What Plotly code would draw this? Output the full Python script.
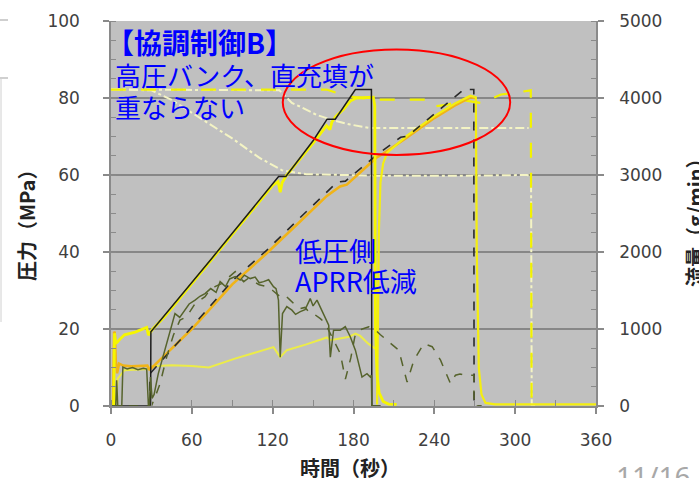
import plotly.graph_objects as go

# ---------------- data ----------------
# Fill 1: dispenser pressure (black solid), MPa
p1_disp_t = [0, 29.4, 29.6, 74.9, 124.4, 129.8, 150.4, 160.4, 166.5, 181.4, 193.3, 193.6, 200]
p1_disp_v = [0, 0, 19.3, 38.4, 59.6, 59.6, 69.1, 74.5, 74.5, 82.2, 82.2, 0, 0]

# Fill 1: vehicle pressure (thick yellow), MPa
p1_veh_t = [2.0, 2.6, 3.5, 4.5, 7, 10, 18, 26.5, 27.8, 29.5, 31, 40, 60, 80, 100, 120, 124, 125.6, 127,
            130, 150, 160, 162.5, 164, 167, 172.5, 177.6, 182, 194.7, 195.8, 196.3, 197.5, 199, 202, 206, 212]
p1_veh_v = [0, 18.9, 16.3, 16.5, 17.5, 18.5, 19.2, 20.4, 18.4, 19.2, 20.0, 23.3, 31.8, 40.2, 48.7, 57.3, 58.3, 55.5, 58.0,
            59.8, 68.3, 72.8, 71.8, 73.8, 75.3, 77.0, 79.2, 80.0, 80.2, 78.0, 20, 8, 3.5, 1.2, 0.5, 0.4]

# Fill 2: dispenser pressure (black dashed), MPa
p2_disp_t = [0, 28.7, 28.9, 60, 90, 115.7, 140, 159, 168, 174, 197.2, 215, 218.5, 222.3, 240, 261.9, 269.3, 269.5, 275]
p2_disp_v = [0, 0, 8.4, 20.5, 32.5, 40.5, 48.8, 55.3, 58.2, 58.4, 65.2, 69.8, 70.0, 70.7, 75.8, 82.2, 82.2, 0, 0]

# Fill 2: vehicle pressure (orange), MPa
p2_veh_t = [1.5, 2.3, 2.8, 3.5, 4.5, 6, 9, 15, 27, 28.5, 30, 40, 60, 90, 115, 140, 160, 170, 175, 197, 202.4,
            220, 240, 255, 266.8, 270.2]
p2_veh_v = [0, 19.3, 19.0, 12.0, 8.5, 11.0, 10.5, 10.3, 10.5, 9.5, 9.8, 13.2, 20.0, 31.6, 39.5, 47.8, 54.5, 57.0, 57.5, 64.5, 65.6,
            69.8, 74.8, 78.0, 80.2, 80.0]

# Fill 2: second vehicle pressure signal (yellow), MPa
p2_veh2_t = [197.5, 198, 198.8, 200, 202, 205, 220, 240, 255, 266.8, 270.8, 271.5, 273, 275, 278, 285, 360]
p2_veh2_v = [0.4, 20, 45, 58, 63, 65.8, 70.3, 75.3, 78.5, 80.6, 80.2, 40, 10, 3, 0.8, 0.4, 0.4]

# Low yellow line (thin), MPa
low_t = [3, 5, 10, 28, 30, 45, 60, 72.6, 92, 105, 120.6, 125.6, 130.5, 145, 160.3, 162.7, 172.7, 177, 181.4, 185, 191, 196]
low_v = [0, 7.1, 9.3, 9.6, 10.3, 10.6, 10.4, 10.0, 12.3, 13.6, 15.3, 12.7, 14.5, 16.0, 17.8, 17.1, 17.8, 18.0, 18.8, 18.2, 16.2, 14.9]

# Flow rate fill 1 (dark olive solid), g/min
f1_t = [0, 3.5, 4.2, 5, 8, 8.8, 12, 16, 20, 24, 26.5, 27.8, 28.5, 29.3, 30.5, 32, 35.1, 38, 41.3, 43.8, 47.5, 51,
        54.9, 58, 62.4, 66, 69.8, 74, 78, 81, 85, 88, 92.2, 95.9, 99, 103.3, 107, 110, 113.2, 117, 120.6, 122.5,
        124.3, 125.6, 127.3, 130.5, 134.3, 137, 140.5, 144, 147.9, 150, 152.9, 157.8, 160.5, 161.6, 162.8, 165.2,
        170.2, 173.9, 177.6, 181.4, 186.3, 190, 192.5, 193.3, 193.6, 200]
f1_v = [0, 0, 335, 0, 0, 505, 480, 500, 470, 490, 480, 0, 0, 375, 100, 150, 420, 600, 810, 985, 1200, 1150,
        1245, 1325, 1375, 1425, 1460, 1525, 1475, 1615, 1550, 1650, 1680, 1635, 1700, 1655, 1675, 1600, 1615, 1640, 1550, 1525,
        1375, 635, 1200, 1290, 1245, 1190, 1225, 1250, 1395, 1300, 1375, 1200, 1100, 1050, 635, 985,
        985, 1030, 900, 725, 375, 420, 375, 400, 0, 0]

# Flow rate fill 2 (dark olive dashed), g/min
f2_t = [0, 30, 32.7, 36.4, 41.3, 46.3, 51.2, 56.2, 62.4, 66, 69.8, 73, 77.2, 82, 86, 92.2, 95, 98.5, 102, 105.9,
        110, 115.7, 120, 125.6, 129, 133, 136, 140.5, 144, 147.9, 151, 155.4, 159, 162.8, 165.2, 170.2, 174, 178,
        181, 183.9, 191.3, 196.3, 200, 206.2, 213.6, 219.8, 224.8, 232.2, 238.4, 244.6, 252, 255.7, 259, 263.2,
        269.3, 269.5, 275]
f2_v = [0, 0, 115, 290, 635, 920, 1115, 1160, 1330, 1375, 1420, 1500, 1550, 1590, 1650, 1745, 1675, 1615, 1660, 1615,
        1575, 1550, 1500, 1420, 1440, 1375, 1325, 1265, 1280, 1200, 1190, 1135, 1075, 940, 855, 680, 350, 625,
        900, 985, 1030, 985, 925, 835, 725, 310, 595, 810, 770, 595, 290, 400, 415, 400,
        400, 0, 0]

# Pale dash-dot line A, MPa
da_t = [0, 30, 45, 60, 75, 90, 110, 127, 145, 200, 260, 309, 311.8, 312.3, 316]
da_v = [82.2, 82.0, 79.5, 76.1, 72.8, 69.5, 64.5, 61.2, 60.2, 59.8, 59.8, 60.0, 59.5, 0.3, 0.3]

# Pale dash-dot line B, MPa
db_t = [0, 125, 134.3, 140.2, 152.7, 165, 177.6, 192.5, 250, 310]
db_v = [82.2, 82.0, 78.7, 77.8, 75.6, 74.2, 73.1, 72.2, 72.2, 72.2]

# Bright yellow long-dash line C, MPa
dc_t = [0, 160, 175, 195, 235, 239.2, 249.2, 260, 274.6, 289.5, 299.2, 311, 311.6, 312.2]
dc_v = [82.2, 82.2, 80.5, 79.6, 79.6, 77.8, 78.2, 79.5, 78.7, 80.9, 81.3, 82.0, 82.0, 0.3]

x_ticks = [0, 60, 120, 180, 240, 300, 360]
y_ticks = [0, 20, 40, 60, 80, 100]
y2_ticks = [0, 1000, 2000, 3000, 4000, 5000]

# ---------------- figure ----------------
PL, PR, PT, PB = 111, 596, 21, 406  # plot area in pixels


def px(X):
    return (X - PL) / (PR - PL)


def py(Y):
    return (PB - Y) / (PB - PT)


fig = go.Figure()

fig.add_trace(go.Scatter(x=da_t, y=da_v, mode="lines",
                         line=dict(color="#f4f4c4", width=2, dash="dashdot")))
fig.add_trace(go.Scatter(x=db_t, y=db_v, mode="lines",
                         line=dict(color="#f4f4c4", width=2, dash="dashdot")))
fig.add_trace(go.Scatter(x=dc_t, y=dc_v, mode="lines",
                         line=dict(color="#f2f200", width=2.2, dash="longdash")))
fig.add_trace(go.Scatter(x=f1_t, y=f1_v, mode="lines", yaxis="y2",
                         line=dict(color="#56632c", width=1.5)))
fig.add_trace(go.Scatter(x=f2_t, y=f2_v, mode="lines", yaxis="y2",
                         line=dict(color="#56632c", width=1.5, dash="dash")))
fig.add_trace(go.Scatter(x=low_t, y=low_v, mode="lines",
                         line=dict(color="#ecec48", width=2)))
fig.add_trace(go.Scatter(x=p2_veh_t, y=p2_veh_v, mode="lines",
                         line=dict(color="#f0b418", width=2.6)))
fig.add_trace(go.Scatter(x=p2_veh2_t, y=p2_veh2_v, mode="lines",
                         line=dict(color="#f4ee10", width=2.2)))
fig.add_trace(go.Scatter(x=p2_disp_t, y=p2_disp_v, mode="lines",
                         line=dict(color="#2a2a2a", width=1.6, dash="dash")))
fig.add_trace(go.Scatter(x=p1_veh_t, y=p1_veh_v, mode="lines",
                         line=dict(color="#f6f600", width=2.8)))
fig.add_trace(go.Scatter(x=p1_disp_t, y=p1_disp_v, mode="lines",
                         line=dict(color="#1c1c1c", width=1.5)))

axis_col = "#8a8a8a"
tick_font = dict(family="DejaVu Sans", size=17, color="#404040")

fig.update_layout(
    width=699, height=478,
    margin=dict(l=PL, r=699 - PR, t=PT, b=478 - PB, pad=0, autoexpand=False),
    paper_bgcolor="white", plot_bgcolor="#c0c0c0",
    showlegend=False,
    xaxis=dict(range=[0, 360], tickvals=x_ticks, showgrid=False, zeroline=False, automargin=False,
               showline=True, linecolor=axis_col, linewidth=1.5,
               ticks="outside", ticklen=6, tickcolor=axis_col, tickwidth=1.5,
               minor=dict(dtick=30, tick0=0, ticks="inside", ticklen=6, tickcolor=axis_col, tickwidth=1.2),
               tickfont=tick_font, ticklabelstandoff=12),
    yaxis=dict(range=[0, 100], tickvals=y_ticks, showgrid=True, gridcolor="#878787", gridwidth=1.5,
               zeroline=False, showline=True, linecolor=axis_col, linewidth=1.5, automargin=False,
               ticks="outside", ticklen=6, tickcolor=axis_col, tickwidth=1.5,
               minor=dict(dtick=5, tick0=0, ticks="inside", ticklen=5, tickcolor=axis_col, tickwidth=1.2),
               tickfont=tick_font, ticklabelstandoff=20),
    yaxis2=dict(range=[0, 5000], tickvals=y2_ticks, overlaying="y", side="right", showgrid=False,
                zeroline=False, showline=True, linecolor=axis_col, linewidth=1.5, automargin=False,
                ticks="outside", ticklen=6, tickcolor=axis_col, tickwidth=1.5,
                minor=dict(dtick=250, tick0=0, ticks="inside", ticklen=5, tickcolor=axis_col, tickwidth=1.2),
                tickfont=tick_font, ticklabelstandoff=12),
)

# red ellipse
fig.add_shape(type="circle", xref="x", yref="y", x0=127.5, x1=296.3, y0=65.2, y1=92.6,
              line=dict(color="#ff0000", width=2))

# slide artefacts at the left edge
for Y in (20, 78):
    fig.add_shape(type="line", xref="paper", yref="paper", x0=px(0), x1=px(8), y0=py(Y), y1=py(Y),
                  line=dict(color="#b0b0b0", width=1.2))
fig.add_shape(type="line", xref="paper", yref="paper", x0=px(1), x1=px(1), y0=py(78), y1=py(322),
              line=dict(color="#d0d0d0", width=1))

CJK = "Noto Sans CJK JP"
blue = "#0000ff"


def note(text, X, Y, size, color, bold=False, xanchor="left", yanchor="middle", angle=0, family=CJK):
    if bold:
        text = "<b>" + text + "</b>"
    fig.add_annotation(text=text, xref="paper", yref="paper", x=px(X), y=py(Y),
                       xanchor=xanchor, yanchor=yanchor, showarrow=False, textangle=angle,
                       font=dict(family=family, size=size, color=color))


note("【協調制御B】", 104, 42, 28, blue, bold=True)
note("高圧バンク、直充填が", 113, 74, 26, blue)
note("重ならない", 113, 107, 26, blue)
note("低圧側", 293, 250, 27, blue)
note("APRR低減", 293, 280, 27, blue)

note("圧力（MPa）", 27, 221, 20, "#222222", bold=True, xanchor="center", angle=-90)
note("流量（g/min）", 694, 218, 20, "#222222", bold=True, xanchor="center", angle=-90)
note("時間（秒）", 350, 467, 20, "#222222", bold=True, xanchor="center")
note("11/16", 614, 455, 28, "#a8a8a8", yanchor="top", family="Noto Sans")

fig.write_html("out.html", config={"displayModeBar": False},
               post_script="document.body.style.margin='0';document.body.style.overflow='hidden';")
